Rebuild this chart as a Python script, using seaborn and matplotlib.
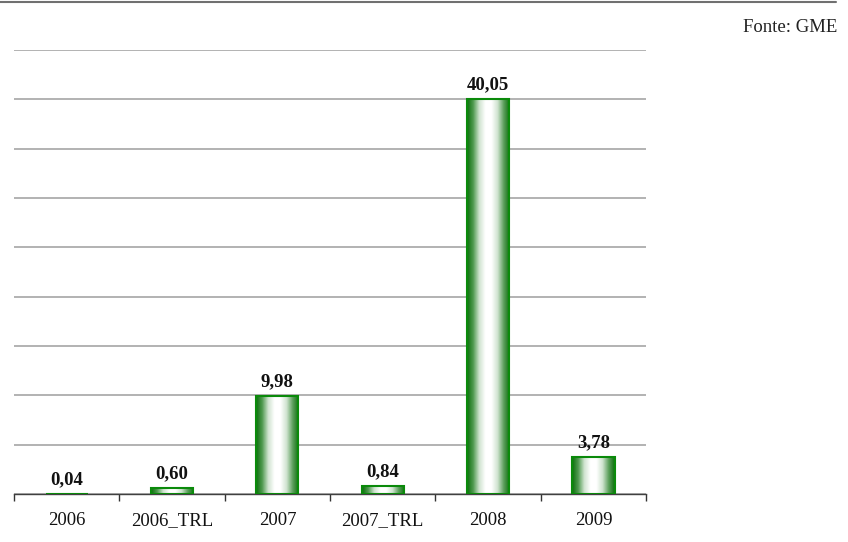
import matplotlib
matplotlib.use("Agg")
import matplotlib.pyplot as plt
import numpy as np
import pandas as pd
import seaborn as sns
from matplotlib.colors import LinearSegmentedColormap
from matplotlib.lines import Line2D

categories = ["2006", "2006_TRL", "2007", "2007_TRL", "2008", "2009"]
values = [0.04, 0.60, 9.98, 0.84, 40.05, 3.78]
value_labels = ["0,04", "0,60", "9,98", "0,84", "40,05", "3,78"]

sns.set_theme(style="white")
plt.rcParams["font.family"] = ["Liberation Serif", "DejaVu Serif"]

df = pd.DataFrame({"year": categories, "value": values})

fig = plt.figure(figsize=(8.48, 5.42), dpi=100)
ax = fig.add_axes([0.0165, 0.0886, 0.7455, 0.8191])

sns.barplot(data=df, x="year", y="value", ax=ax, width=0.4,
            color="white", edgecolor="#0a8a0a", linewidth=1.5, zorder=3)

# cylinder-like gradient: green edges, white centre
green_white = LinearSegmentedColormap.from_list(
    "gw", ["#0b6e0b", "#4f9a4f", "#cfe3cf", "#ffffff", "#ffffff", "#cfe3cf", "#5c9f5c", "#0b6e0b"])
grad = np.linspace(0, 1, 256).reshape(1, -1)
for patch in ax.patches:
    patch.set_facecolor("none")
    x0, y0 = patch.get_x(), patch.get_y()
    w, h = patch.get_width(), patch.get_height()
    if h <= 0:
        continue
    im = ax.imshow(grad, cmap=green_white, aspect="auto", interpolation="bilinear",
                   extent=[x0, x0 + w, y0, y0 + h], zorder=2.5)
    im.set_clip_path(patch)

for i, (v, lab) in enumerate(zip(values, value_labels)):
    ax.annotate(lab, (i, v), xytext=(0, 4), textcoords="offset points",
                ha="center", va="bottom", fontsize=13.5, fontweight="bold", color="#111111")

ax.set_xlim(-0.5, len(categories) - 0.5)
ax.set_ylim(0, 45)
ax.set_yticks(np.arange(0, 46, 5))
ax.yaxis.grid(True, color="#a6a6a6", linewidth=1.2, zorder=0)
ax.set_axisbelow(True)
ax.tick_params(axis="y", left=False, labelleft=False)

ax.set_xticks(range(len(categories)))
ax.set_xticklabels(categories, fontsize=13.5, color="#111111")
ax.tick_params(axis="x", which="major", length=0, pad=13)
ax.set_xticks(np.arange(-0.5, len(categories)), minor=True)
ax.tick_params(axis="x", which="minor", bottom=True, length=5, width=1,
               color="#333333", direction="out")
ax.set_xlabel("")
ax.set_ylabel("")

for side in ["top", "right", "left"]:
    ax.spines[side].set_visible(False)
ax.spines["bottom"].set_color("#404040")
ax.spines["bottom"].set_linewidth(1)

fig.add_artist(Line2D([0, 836 / 848], [1 - 1.5 / 542, 1 - 1.5 / 542],
                      transform=fig.transFigure, color="#707070", linewidth=1.5))
fig.text(837 / 848, 1 - 27 / 542, "Fonte: GME", ha="right", va="center",
         fontsize=13.5, color="#222222")

fig.savefig("out.png", dpi=100)
